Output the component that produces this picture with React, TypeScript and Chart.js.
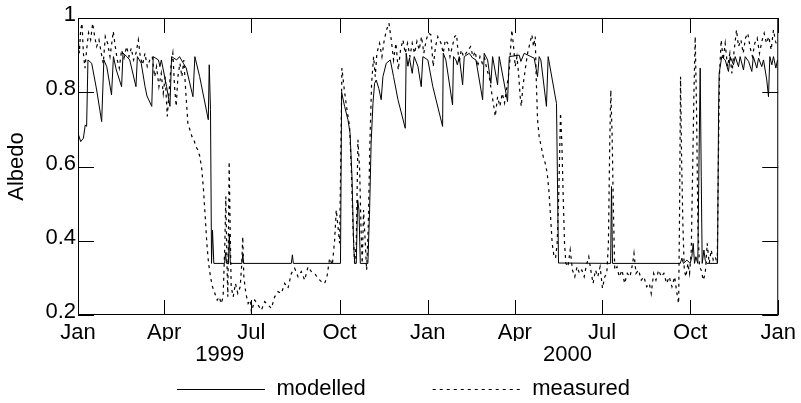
import React, { useEffect, useRef } from 'react';
import { Chart, registerables } from 'chart.js';

Chart.register(...registerables);

// ---- data ----
const monthTickDays = [0, 90, 181, 273, 365, 456, 547, 639, 731];
const monthTickLabels = ['Jan', 'Apr', 'Jul', 'Oct', 'Jan', 'Apr', 'Jul', 'Oct', 'Jan'];
const yearTickDays = [148, 511];
const yearTickLabels = ['1999', '2000'];
const albedoTicks = [0.2, 0.4, 0.6, 0.8, 1];
const albedoTickLabels = ['0.2', '0.4', '0.6', '0.8', '1'];
const seriesNames = ['modelled', 'measured'];

// [day since 1 Jan 1999, albedo]
const modelled: [number, number][] = [
  [0, 0.69], [2.8, 0.667], [5.6, 0.676], [7.6, 0.712], [9, 0.708], [10.4, 0.887], [14.3, 0.878], [19.5, 0.806],
  [24.7, 0.721], [27, 0.887], [30, 0.869], [35, 0.793], [37, 0.896], [40, 0.86], [45.5, 0.815], [47, 0.905],
  [51, 0.896], [54, 0.887], [60.5, 0.815], [62, 0.896], [66, 0.878], [70, 0.815], [72, 0.79], [77, 0.762],
  [78.5, 0.896], [84, 0.887], [85.5, 0.869], [87, 0.887], [92.5, 0.815], [96, 0.762], [97.7, 0.896], [103, 0.887],
  [106, 0.896], [110, 0.878], [113, 0.865], [120, 0.788], [122, 0.896], [127, 0.842], [136, 0.726], [137, 0.874],
  [138.3, 0.753], [139.4, 0.339], [140.4, 0.429], [141.8, 0.339], [153, 0.339], [154, 0.368], [155, 0.339],
  [157, 0.339], [158, 0.418], [159, 0.339], [171, 0.339], [172, 0.362], [173, 0.339], [222.7, 0.339],
  [223.8, 0.362], [224.8, 0.339], [274, 0.339], [275.2, 0.8], [278.3, 0.762], [281.8, 0.726], [284, 0.69],
  [286, 0.573], [287.7, 0.393], [288.8, 0.339], [290.5, 0.339], [291.9, 0.51], [293.3, 0.483], [294.7, 0.339],
  [302.6, 0.339], [304.4, 0.483], [306, 0.663], [307.9, 0.77], [309.6, 0.824], [311.3, 0.833], [314, 0.81],
  [316.5, 0.78], [318.3, 0.842], [321.8, 0.878], [326, 0.887], [329.4, 0.842], [334, 0.78], [341.6, 0.703],
  [342.6, 0.905], [344.4, 0.87], [346, 0.892], [348.9, 0.851], [351, 0.896], [354.8, 0.87], [358.3, 0.815],
  [360, 0.896], [365.2, 0.887], [370.4, 0.815], [380.6, 0.708], [381.3, 0.905], [384, 0.887], [391, 0.766],
  [392, 0.896], [394.5, 0.887], [396, 0.874], [398, 0.896], [401.5, 0.82], [403.2, 0.896], [408.4, 0.905],
  [412, 0.892], [415.4, 0.887], [422.4, 0.78], [424, 0.905], [427.6, 0.887], [431, 0.824], [432.8, 0.896],
  [438, 0.82], [439.7, 0.896], [448.4, 0.775], [450.2, 0.896], [460.6, 0.9], [462.3, 0.883], [465.8, 0.905],
  [472.8, 0.896], [476.2, 0.892], [479.7, 0.842], [481.4, 0.896], [483.2, 0.887], [489, 0.762], [490.8, 0.896],
  [497, 0.806], [499.5, 0.77], [501.6, 0.34], [556, 0.339], [556.9, 0.546], [558, 0.339], [628.7, 0.339],
  [630.4, 0.353], [632, 0.339], [635.6, 0.348], [639, 0.339], [640.8, 0.357], [642.2, 0.393], [643.6, 0.339],
  [645, 0.357], [647, 0.339], [648.5, 0.663], [649.5, 0.865], [650.6, 0.573], [651.6, 0.339], [653.4, 0.375],
  [654.7, 0.348], [656.5, 0.339], [667.6, 0.339], [668.7, 0.753], [669.3, 0.851], [672, 0.896], [675.6, 0.887],
  [679, 0.856], [680.8, 0.896], [684.3, 0.874], [686, 0.896], [689.5, 0.869], [691.2, 0.896], [694.7, 0.86],
  [696.5, 0.896], [700, 0.883], [703.4, 0.856], [705, 0.896], [708.6, 0.865], [710.4, 0.892], [713.8, 0.869],
  [715.6, 0.887], [719, 0.833], [720.8, 0.788], [722.2, 0.896], [724.3, 0.874], [726, 0.896], [728.5, 0.865],
  [730.2, 0.887],
];

const measured: [number, number][] = [
  [0, 0.95], [1.4, 0.905], [2.8, 0.968], [4.2, 0.986], [5.6, 0.905], [7.3, 0.865], [9, 0.914], [11, 0.96],
  [13.2, 0.941], [15.3, 0.986], [17.4, 0.95], [19.5, 0.923], [21.9, 0.941], [24.3, 0.905], [26.4, 0.878],
  [28.5, 0.95], [30.9, 0.932], [33.4, 0.896], [35.5, 0.937], [36.8, 0.964], [38.9, 0.923], [41, 0.887],
  [43.1, 0.865], [45.5, 0.914], [48, 0.892], [50.7, 0.923], [53.2, 0.896], [55.6, 0.919], [58, 0.887],
  [60.5, 0.905], [63, 0.941], [65, 0.896], [67.4, 0.874], [69.9, 0.905], [72.3, 0.869], [75, 0.887],
  [77.5, 0.896], [80, 0.842], [82, 0.869], [84.5, 0.815], [86.9, 0.851], [89, 0.797], [91, 0.842], [93.2, 0.735],
  [95.2, 0.806], [97.3, 0.878], [99, 0.905], [100.8, 0.815], [102.5, 0.762], [104.3, 0.842], [106.4, 0.878],
  [108.4, 0.842], [110.5, 0.887], [112.6, 0.797], [114.7, 0.717], [116.8, 0.699], [118.9, 0.681], [121, 0.672],
  [123, 0.654], [125, 0.645], [127.2, 0.627], [129.3, 0.591], [131, 0.537], [132.8, 0.465], [134.5, 0.393],
  [136.3, 0.339], [138.3, 0.303], [140.4, 0.276], [142.9, 0.258], [145.3, 0.24], [147.4, 0.249], [149.5, 0.231],
  [151.5, 0.249], [153.3, 0.393], [154.3, 0.519], [155.4, 0.348], [156.4, 0.249], [157.8, 0.613], [158.8, 0.438],
  [159.9, 0.276], [162, 0.249], [164.4, 0.285], [166.8, 0.258], [169.3, 0.276], [171, 0.339], [172, 0.411],
  [173.1, 0.303], [175.2, 0.258], [177.6, 0.231], [180, 0.24],
  [181, 0.209], [184.5, 0.24], [188, 0.227], [191.4, 0.213], [194.9, 0.236], [198.4, 0.227], [201.9, 0.218],
  [205.3, 0.249], [208.8, 0.263], [212.3, 0.258], [215.8, 0.285], [219.2, 0.272], [222.7, 0.312], [226.2, 0.326],
  [229.7, 0.303], [233.1, 0.317], [236.6, 0.294], [240.1, 0.33], [243.6, 0.317], [247, 0.312], [250.5, 0.299],
  [254, 0.29], [257.5, 0.285], [259.9, 0.303], [262.7, 0.353], [265.5, 0.335], [267.9, 0.402], [269.6, 0.483],
  [271.4, 0.438], [273.1, 0.393], [274.5, 0.663], [275.5, 0.865], [278, 0.806], [280.8, 0.753], [283.5, 0.708],
  [285.6, 0.573], [287, 0.438], [288.8, 0.339], [290.5, 0.393], [292.2, 0.672], [294, 0.591], [295.4, 0.438],
  [296.7, 0.339], [298.1, 0.483], [299.9, 0.393], [301.3, 0.321], [303, 0.438], [304.7, 0.663], [306.5, 0.824],
  [308.6, 0.896], [310.3, 0.842], [312, 0.905], [314.8, 0.932], [317.3, 0.896], [319.7, 0.941], [322.1, 0.968],
  [324.6, 0.986], [327, 0.941], [329.4, 0.887], [331.9, 0.932], [334.3, 0.86], [336.7, 0.914], [339.2, 0.941],
  [341.6, 0.905], [344, 0.932], [346.5, 0.896], [348.9, 0.932], [351.3, 0.905], [353.8, 0.937], [356.2, 0.914],
  [358.6, 0.95], [361, 0.905], [363.5, 0.941], [365.9, 0.959], [368.3, 0.955], [370.8, 0.869], [373.2, 0.923],
  [375.6, 0.95],
  [378.9, 0.932], [381.3, 0.905], [383.4, 0.941], [385.9, 0.932], [388.3, 0.896], [390.7, 0.923], [393.2, 0.95],
  [395.2, 0.955], [397.7, 0.878], [400.1, 0.914], [402.5, 0.896], [405, 0.905], [407.4, 0.914], [409.8, 0.923],
  [412.3, 0.896], [414.7, 0.91], [417.1, 0.869], [419.6, 0.896], [422, 0.878], [424.4, 0.892], [426.9, 0.86],
  [429.3, 0.842], [431.4, 0.806], [433.5, 0.771], [435.6, 0.735], [438, 0.788], [440.4, 0.762], [442.9, 0.797],
  [445.3, 0.771], [447.7, 0.815], [450.2, 0.86], [451.9, 0.932], [452.9, 0.968], [454.7, 0.923], [456.4, 0.869],
  [458.2, 0.896], [459.9, 0.851], [461.6, 0.788], [462.7, 0.762], [464.4, 0.815], [466.8, 0.86], [469.3, 0.905],
  [471.7, 0.932], [473.8, 0.955], [475.5, 0.923], [477.3, 0.95], [478.3, 0.842], [479.7, 0.726], [481.4, 0.681],
  [483.5, 0.654], [485.6, 0.627], [487.7, 0.609], [489.8, 0.582], [491.5, 0.537], [493.3, 0.465], [495, 0.393],
  [496.7, 0.362], [498.5, 0.353], [500.2, 0.393], [501.9, 0.528], [503.7, 0.744], [505.1, 0.663], [506.5, 0.519],
  [507.9, 0.393], [509.3, 0.339], [511.4, 0.33], [513.8, 0.375], [516.2, 0.321], [518.6, 0.303], [521, 0.33],
  [523.5, 0.312], [525.9, 0.321], [528.4, 0.303], [530.8, 0.335], [533.2, 0.357], [535.3, 0.321], [537.7, 0.285],
  [540.2, 0.321], [542.6, 0.303], [545, 0.33], [547.5, 0.272], [549.9, 0.303], [552, 0.312], [553.7, 0.393],
  [555.1, 0.663], [556.2, 0.806], [557.6, 0.681], [558.9, 0.483], [560.3, 0.321],
  [562.6, 0.33], [565, 0.303], [567.9, 0.321], [570.6, 0.285], [573.4, 0.312], [576.2, 0.303], [579, 0.339],
  [580.4, 0.366], [582.5, 0.312], [585.2, 0.321], [588, 0.294], [590.8, 0.303], [593.6, 0.276], [596.4, 0.285],
  [598.4, 0.258], [600.9, 0.312], [603.3, 0.294], [606.1, 0.321], [608.9, 0.303], [611.6, 0.312], [614.4, 0.285],
  [617.2, 0.303], [620, 0.276], [622.8, 0.303], [625.2, 0.258], [627, 0.231], [628, 0.483], [629, 0.842],
  [630.1, 0.618], [631.5, 0.438], [632.9, 0.321], [634.6, 0.303], [636.7, 0.339], [638.4, 0.312], [640.2, 0.375],
  [641.5, 0.573], [642.9, 0.788], [644.3, 0.95], [645.7, 0.753], [647.1, 0.438], [648.8, 0.33], [650.6, 0.321],
  [652.7, 0.294], [654.8, 0.312], [656.8, 0.393], [658.9, 0.339], [661, 0.375], [663.1, 0.348], [665.2, 0.357],
  [667.3, 0.339], [668.7, 0.663], [669.7, 0.851], [671.4, 0.941], [673.5, 0.887], [675.6, 0.932], [678, 0.869],
  [680.5, 0.905], [682.6, 0.851], [685, 0.914], [687.4, 0.968], [689.5, 0.923], [692, 0.941], [694.4, 0.905],
  [696.8, 0.946], [699.2, 0.959], [701.7, 0.919], [704.1, 0.896], [706.5, 0.932], [709, 0.946], [711.4, 0.905],
  [713.8, 0.937], [716.3, 0.959], [718.7, 0.932], [721.1, 0.95], [723.6, 0.914], [726, 0.968], [728.1, 0.937],
  [730.2, 0.923],
];

const FONT = "'Liberation Sans', Arial, Helvetica, sans-serif";
const FONT_SIZE = 22;

// inward tick marks on all four sides + plot frame
const framePlugin = {
  id: 'frameTicks',
  afterDatasetsDraw(chart: any) {
    const { ctx, chartArea } = chart;
    const { left, right, top, bottom } = chartArea;
    const xs = chart.scales.x;
    const ys = chart.scales.y;
    ctx.save();
    ctx.strokeStyle = '#000';
    ctx.lineWidth = 1;
    ctx.beginPath();
    ctx.rect(left + 0.5, top + 0.5, right - left - 1, bottom - top - 1);
    for (const t of xs.ticks) {
      const px = Math.round(xs.getPixelForValue(t.value)) + 0.5;
      ctx.moveTo(px, bottom);
      ctx.lineTo(px, bottom - 15);
      ctx.moveTo(px, top);
      ctx.lineTo(px, top + 15);
    }
    for (const t of ys.ticks) {
      const py = Math.round(ys.getPixelForValue(t.value)) + 0.5;
      ctx.moveTo(left, py);
      ctx.lineTo(left + 16, py);
      ctx.moveTo(right, py);
      ctx.lineTo(right - 16, py);
    }
    ctx.stroke();
    ctx.restore();
  },
};

// legend with long line samples
const lineLegendPlugin = {
  id: 'lineLegend',
  afterDraw(chart: any) {
    const ctx = chart.ctx;
    const lineLen = 88;
    const textGap = 11.5;
    const itemGap = 67;
    ctx.save();
    ctx.font = `${FONT_SIZE}px ${FONT}`;
    const items = chart.data.datasets.map((ds: any) => ({
      text: ds.label,
      dash: ds.borderDash || [],
      width: ds.borderWidth,
      color: ds.borderColor,
    }));
    const widths = items.map((it: any) => lineLen + textGap + ctx.measureText(it.text).width);
    const total = widths.reduce((a: number, b: number) => a + b, 0) + itemGap * (items.length - 1);
    let x = chart.width / 2 - total / 2 + 3;
    const y = chart.height - 14;
    items.forEach((it: any, i: number) => {
      ctx.beginPath();
      ctx.setLineDash(it.dash);
      ctx.lineWidth = it.width;
      ctx.strokeStyle = it.color;
      ctx.moveTo(x, y + 0.5);
      ctx.lineTo(x + lineLen, y + 0.5);
      ctx.stroke();
      ctx.setLineDash([]);
      ctx.fillStyle = '#000';
      ctx.textBaseline = 'middle';
      ctx.textAlign = 'left';
      ctx.fillText(it.text, x + lineLen + textGap, y);
      x += widths[i] + itemGap;
    });
    ctx.restore();
  },
};

export default function App() {
  const canvasRef = useRef<HTMLCanvasElement | null>(null);

  useEffect(() => {
    if (!canvasRef.current) return;
    const font = { family: FONT, size: FONT_SIZE };
    const chart = new Chart(canvasRef.current, {
      type: 'line',
      data: {
        datasets: [
          {
            label: seriesNames[0],
            data: modelled.map(([d, v]) => ({ x: d, y: v })),
            borderColor: '#000',
            borderWidth: 1,
            pointRadius: 0,
            tension: 0,
            fill: false,
          },
          {
            label: seriesNames[1],
            data: measured.map(([d, v]) => ({ x: d, y: v })),
            borderColor: '#000',
            borderWidth: 1.2,
            borderDash: [3, 4],
            pointRadius: 0,
            tension: 0,
            fill: false,
          },
        ],
      },
      options: {
        animation: false,
        responsive: true,
        maintainAspectRatio: false,
        layout: { padding: { left: 0, top: 18, right: 21, bottom: 36 } },
        plugins: {
          legend: { display: false },
          tooltip: { enabled: false },
        },
        scales: {
          x: {
            type: 'linear',
            position: 'bottom',
            weight: 0,
            min: 0,
            max: 731,
            grid: { display: false, drawTicks: false },
            border: { display: false },
            afterBuildTicks: (s: any) => {
              s.ticks = monthTickDays.map((v) => ({ value: v }));
            },
            afterFit: (s: any) => {
              s.height = 26;
            },
            ticks: {
              autoSkip: false,
              maxRotation: 0,
              minRotation: 0,
              padding: 5,
              color: '#000',
              font,
              callback: (_v: any, i: number) => monthTickLabels[i],
            },
          },
          yr: {
            type: 'linear',
            position: 'bottom',
            weight: 1,
            min: 0,
            max: 731,
            grid: { display: false, drawTicks: false },
            border: { display: false },
            afterBuildTicks: (s: any) => {
              s.ticks = yearTickDays.map((v) => ({ value: v }));
            },
            afterFit: (s: any) => {
              s.height = 26;
            },
            ticks: {
              autoSkip: false,
              maxRotation: 0,
              minRotation: 0,
              padding: 1,
              color: '#000',
              font,
              callback: (_v: any, i: number) => yearTickLabels[i],
            },
          },
          y: {
            type: 'linear',
            min: 0.2,
            max: 1,
            grid: { display: false, drawTicks: false },
            border: { display: false },
            afterBuildTicks: (s: any) => {
              s.ticks = albedoTicks.map((v) => ({ value: v }));
            },
            afterFit: (s: any) => {
              s.width = 78;
            },
            ticks: {
              padding: 2,
              labelOffset: -3,
              color: '#000',
              font,
              callback: (_v: any, i: number) => albedoTickLabels[i],
            },
            title: {
              display: true,
              text: 'Albedo',
              color: '#000',
              font,
              padding: { top: 4, bottom: 0 },
            },
          },
        },
      },
      plugins: [framePlugin, lineLegendPlugin],
    } as any);
    return () => chart.destroy();
  }, []);

  return (
    <div style={{ position: 'absolute', left: 0, top: 0, width: 801, height: 403, background: '#fff' }}>
      <canvas ref={canvasRef} />
    </div>
  );
}
